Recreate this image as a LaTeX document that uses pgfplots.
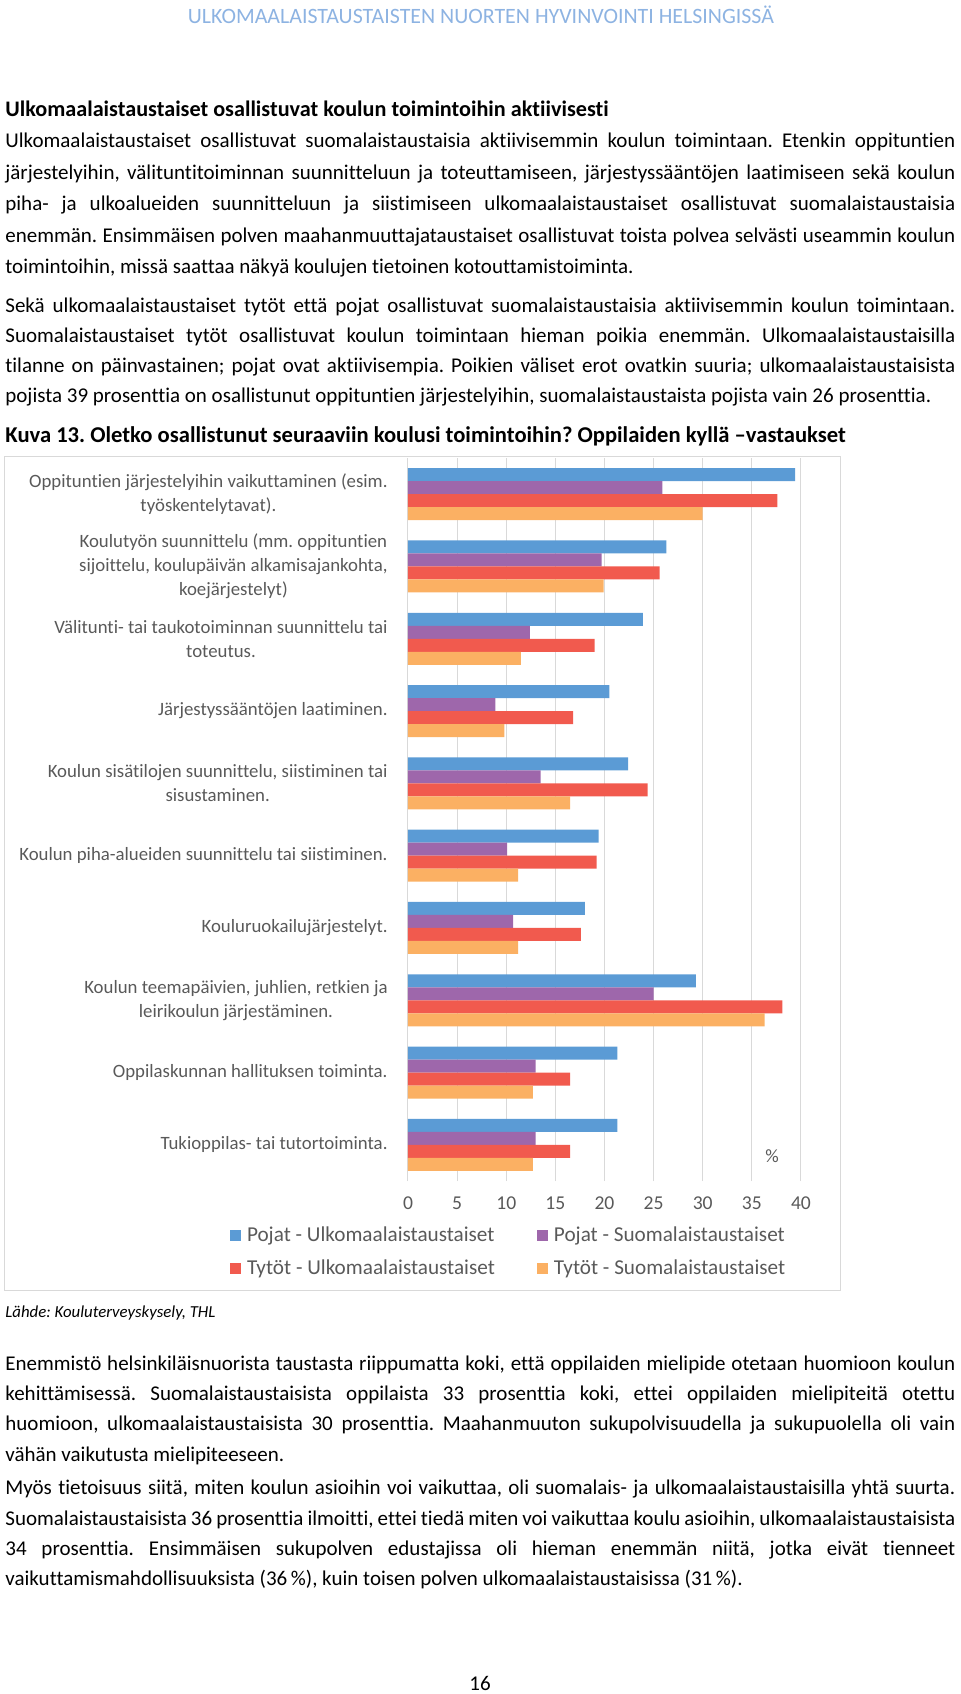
\documentclass[border=0pt]{standalone}
\usepackage{pgfplots}
\usepackage{pgfplotstable}
\pgfplotsset{compat=1.18}
\usepackage{fontspec}
\setmainfont{Carlito}[Ligatures={NoCommon}]
\frenchspacing
\definecolor{hdr}{HTML}{8DB3E2}
\definecolor{cblue}{HTML}{5B9BD5}
\definecolor{cpurp}{HTML}{9E67AB}
\definecolor{cred}{HTML}{F15A4E}
\definecolor{corange}{HTML}{FBB063}
\definecolor{txtgray}{HTML}{595959}
\definecolor{gridgray}{HTML}{D9D9D9}
\newcommand{\bodyfont}{\fontsize{10.5}{12}\selectfont}
\newcommand{\jline}[2]{\node[anchor=base west,inner sep=0pt,font=\bodyfont] at (5,#1) {\makebox[475pt][s]{#2}};}
\newcommand{\pline}[2]{\node[anchor=base west,inner sep=0pt,font=\bodyfont] at (5,#1) {#2};}

% y = category position (9 = top), pu = Pojat-Ulkomaalaistaustaiset, ps = Pojat-Suomalaistaustaiset,
% tu = Tytot-Ulkomaalaistaustaiset, ts = Tytot-Suomalaistaustaiset
\pgfplotstableread{
y pu ps tu ts
9 39.4 25.9 37.6 30.0
8 26.3 19.7 25.6 19.9
7 23.9 12.4 19.0 11.5
6 20.5 8.9 16.8 9.8
5 22.4 13.5 24.4 16.5
4 19.4 10.1 19.2 11.2
3 18.0 10.7 17.6 11.2
2 29.3 25.0 38.1 36.3
1 21.3 13.0 16.5 12.7
0 21.3 13.0 16.5 12.7
}\datatable

\begin{document}
\begin{tikzpicture}
\useasboundingbox (0,0) rectangle (480pt,-847pt);
\begin{scope}[x=0.5pt,y=-0.5pt]
% header
\node[anchor=base,inner sep=0pt,font=\fontsize{10.95}{12}\selectfont,text=hdr] at (481,23.5) {ULKOMAALAISTAUSTAISTEN NUORTEN HYVINVOINTI HELSINGISSÄ};
% heading
\node[anchor=base west,inner sep=0pt,font=\fontsize{11.1}{12}\selectfont\bfseries] at (5,116) {Ulkomaalaistaustaiset osallistuvat koulun toimintoihin aktiivisesti};
% paragraph 1
\jline{147.5}{Ulkomaalaistaustaiset osallistuvat suomalaistaustaisia aktiivisemmin koulun toimintaan. Etenkin oppituntien}
\jline{179}{järjestelyihin, välituntitoiminnan suunnitteluun ja toteuttamiseen, järjestyssääntöjen laatimiseen sekä koulun}
\jline{210.5}{piha- ja ulkoalueiden suunnitteluun ja siistimiseen ulkomaalaistaustaiset osallistuvat suomalaistaustaisia}
\jline{242}{enemmän. Ensimmäisen polven maahanmuuttajataustaiset osallistuvat toista polvea selvästi useammin koulun}
\pline{273.5}{toimintoihin, missä saattaa näkyä koulujen tietoinen kotouttamistoiminta.}
% paragraph 2
\jline{312}{Sekä ulkomaalaistaustaiset tytöt että pojat osallistuvat suomalaistaustaisia aktiivisemmin koulun toimintaan.}
\jline{342.5}{Suomalaistaustaiset tytöt osallistuvat koulun toimintaan hieman poikia enemmän. Ulkomaalaistaustaisilla}
\jline{372.5}{tilanne on päinvastainen; pojat ovat aktiivisempia. Poikien väliset erot ovatkin suuria; ulkomaalaistaustaisista}
\pline{402.5}{pojista 39 prosenttia on osallistunut oppituntien järjestelyihin, suomalaistaustaista pojista vain 26 prosenttia.}
% figure title
\node[anchor=base west,inner sep=0pt,font=\fontsize{11.3}{12}\selectfont\bfseries] at (5,442) {Kuva 13. Oletko osallistunut seuraaviin koulusi toimintoihin? Oppilaiden kyllä –vastaukset};
% chart frame
\draw[gridgray,line width=0.5pt] (4,456) rectangle (840,1290);
% percent sign
\node[anchor=base,inner sep=0pt,font=\fontsize{9.4}{12}\selectfont,text=txtgray] at (772,1162) {\%};
% source
\node[anchor=base west,inner sep=0pt,font=\fontsize{8.4}{10}\selectfont\itshape] at (5,1317) {Lähde: Kouluterveyskysely, THL};
% paragraph 3
\jline{1370}{Enemmistö helsinkiläisnuorista taustasta riippumatta koki, että oppilaiden mielipide otetaan huomioon koulun}
\jline{1400}{kehittämisessä. Suomalaistaustaisista oppilaista 33 prosenttia koki, ettei oppilaiden mielipiteitä otettu}
\jline{1430.5}{huomioon, ulkomaalaistaustaisista 30 prosenttia. Maahanmuuton sukupolvisuudella ja sukupuolella oli vain}
\pline{1461}{vähän vaikutusta mielipiteeseen.}
% paragraph 4
\jline{1494}{Myös tietoisuus siitä, miten koulun asioihin voi vaikuttaa, oli suomalais- ja ulkomaalaistaustaisilla yhtä suurta.}
\jline{1525}{Suomalaistaustaisista 36 prosenttia ilmoitti, ettei tiedä miten voi vaikuttaa koulu asioihin, ulkomaalaistaustaisista}
\jline{1555.5}{34 prosenttia. Ensimmäisen sukupolven edustajissa oli hieman enemmän niitä, jotka eivät tienneet}
\pline{1585}{vaikuttamismahdollisuuksista (36\,\%), kuin toisen polven ulkomaalaistaustaisissa (31\,\%).}
% page number
\node[anchor=base,inner sep=0pt,font=\bodyfont] at (480,1690) {16};
\end{scope}

\begin{axis}[
  at={(204pt,-590.5pt)}, anchor=south west,
  scale only axis, width=196.5pt, height=361.5pt,
  xbar, bar width=6.5pt,
  xmin=0, xmax=40, ymin=-0.5, ymax=9.5,
  xtick={0,5,...,40},
  ytick={0,...,9},
  yticklabels={
    {Tukioppilas- tai tutortoiminta.},
    {Oppilaskunnan hallituksen toiminta.},
    {Koulun teemapäivien, juhlien, retkien ja\\leirikoulun järjestäminen.},
    {Kouluruokailujärjestelyt.},
    {Koulun piha-alueiden suunnittelu tai siistiminen.},
    {Koulun sisätilojen suunnittelu, siistiminen tai\\sisustaminen.},
    {Järjestyssääntöjen laatiminen.},
    {Välitunti- tai taukotoiminnan suunnittelu tai\\toteutus.},
    {Koulutyön suunnittelu (mm. oppituntien\\sijoittelu, koulupäivän alkamisajankohta,\\koejärjestelyt)},
    {Oppituntien järjestelyihin vaikuttaminen (esim.\\työskentelytavat).}
  },
  /pgf/number format/assume math mode=true,
  xticklabel style={anchor=base, inner sep=0pt, yshift=-14pt, font=\fontsize{9.8}{12}\selectfont, text=txtgray},
  yticklabel style={anchor=east, inner sep=0pt, xshift=-10pt, align=center, font=\fontsize{9.4}{12}\selectfont, text=txtgray},
  major tick length=0pt,
  tick style={draw=none},
  axis line style={draw=none},
  xmajorgrids,
  major grid style={draw=gridgray, line width=0.5pt},
  legend columns=2,
  legend style={at={(-0.4529,-0.0636)}, anchor=north west, draw=none, fill=none,
    inner sep=0pt, outer sep=0pt, row sep=7.5pt,
    /tikz/every odd column/.append style={column sep=3pt},
    /tikz/every even column/.append style={column sep=21pt},
    nodes={inner sep=0pt, text height=7pt, text depth=2pt, font=\fontsize{10.6}{12}\selectfont, text=txtgray, anchor=base west}},
]
\addplot[fill=cblue, draw=none, bar shift=9.75pt, legend image code/.code={\fill[cblue] (0pt,0pt) rectangle (5.5pt,5.5pt);}] table[x=pu,y=y] {\datatable};
\addplot[fill=cpurp, draw=none, bar shift=3.25pt, legend image code/.code={\fill[cpurp] (0pt,0pt) rectangle (5.5pt,5.5pt);}] table[x=ps,y=y] {\datatable};
\addplot[fill=cred, draw=none, bar shift=-3.25pt, legend image code/.code={\fill[cred] (0pt,0pt) rectangle (5.5pt,5.5pt);}] table[x=tu,y=y] {\datatable};
\addplot[fill=corange, draw=none, bar shift=-9.75pt, legend image code/.code={\fill[corange] (0pt,0pt) rectangle (5.5pt,5.5pt);}] table[x=ts,y=y] {\datatable};
\legend{Pojat - Ulkomaalaistaustaiset, Pojat - Suomalaistaustaiset, Tytöt - Ulkomaalaistaustaiset, Tytöt - Suomalaistaustaiset}
\end{axis}
\end{tikzpicture}
\end{document}
